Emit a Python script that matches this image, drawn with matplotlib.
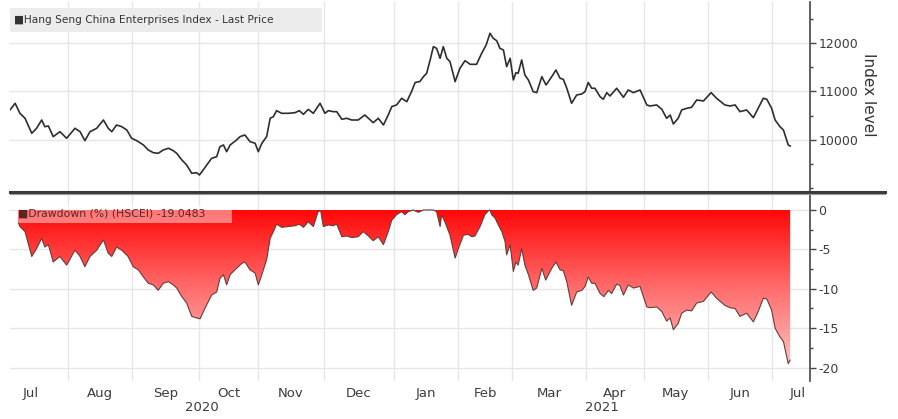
import numpy as np
import matplotlib
matplotlib.use("Agg")
import matplotlib.pyplot as plt
from matplotlib.colors import LinearSegmentedColormap
from matplotlib.lines import Line2D
from matplotlib.patches import Rectangle, Polygon
import matplotlib.ticker as mticker

# ---------------- data (x = trading-session index from start of window) ----------------
price_session = [0.0, 1.6, 3.1, 4.7, 6.8, 8.3, 9.9, 10.9, 12.0, 13.5, 15.6, 17.7, 20.3, 21.9, 23.4,
                 25.0, 27.1, 29.2, 30.7, 31.8, 33.3, 34.9, 36.5, 38.0, 39.6, 41.7, 43.2, 44.8, 46.3,
                 47.9, 49.5, 51.0, 52.1, 53.7, 55.2, 56.8, 58.3, 59.2, 60.9, 63.0, 64.6, 65.6, 66.7,
                 67.7, 68.8, 70.8, 71.9, 73.4, 75.0, 76.6, 77.6, 78.7, 80.2, 81.3, 82.3, 83.3, 84.9,
                 87.0, 89.1, 90.4, 91.7, 93.2, 94.8, 96.9, 98.4, 99.5, 101.0, 102.1, 103.7, 105.2,
                 106.8, 108.8, 110.9, 112.0, 113.5, 115.1, 116.7, 118.2, 119.3, 120.8, 122.4, 124.0,
                 125.5, 126.6, 128.1, 129.2, 130.2, 131.3, 132.3, 133.3, 134.4, 135.4, 136.5, 137.5,
                 139.1, 140.6, 142.2, 143.8, 145.8, 147.4, 148.8, 150.0, 151.0, 152.1, 153.1, 154.2,
                 155.2, 156.3, 157.3, 158.1, 158.8, 159.9, 160.9, 162.0, 163.5, 164.6, 166.2, 167.5,
                 169.3, 170.6, 171.9, 172.9, 174.0, 175.5, 177.1, 178.7, 179.7, 180.7, 181.8, 182.8,
                 184.4, 185.4, 186.5, 187.5, 189.6, 191.7, 193.2, 194.8, 196.9, 199.0, 200.0, 202.1,
                 203.7, 205.2, 206.3, 207.3, 208.8, 209.9, 211.5, 213.0, 214.6, 216.7, 219.1, 220.8,
                 223.4, 225.0, 226.6, 228.1, 230.2, 232.3, 233.8, 235.4, 236.5, 238.0, 239.1, 240.6,
                 241.7, 243.2, 243.8]
price_values = [10620, 10757, 10550, 10447, 10138, 10241, 10412, 10274, 10289, 10069, 10171, 10035,
                10241, 10171, 9986, 10171, 10241, 10412, 10241, 10171, 10309, 10275, 10206, 10035,
                9986, 9897, 9794, 9738, 9725, 9794, 9829, 9780, 9725, 9588, 9485, 9313, 9326, 9278,
                9430, 9622, 9656, 9862, 9897, 9759, 9897, 10000, 10069, 10103, 9966, 9932, 9759,
                9932, 10069, 10447, 10481, 10605, 10550, 10550, 10563, 10605, 10529, 10632, 10550,
                10757, 10550, 10605, 10584, 10584, 10427, 10447, 10412, 10412, 10515, 10447, 10357,
                10447, 10309, 10515, 10687, 10722, 10860, 10790, 11000, 11185, 11206, 11306, 11375,
                11650, 11924, 11890, 11684, 11924, 11684, 11615, 11203, 11478, 11635, 11560, 11560,
                11787, 11959, 12200, 12097, 12047, 11890, 11856, 11512, 11684, 11237, 11388, 11375,
                11650, 11340, 11237, 10996, 10976, 11306, 11134, 11306, 11443, 11272, 11251, 11066,
                10757, 10928, 10949, 10996, 11185, 11066, 11066, 10893, 10840, 10976, 10907, 11066,
                10880, 11031, 10976, 11031, 10722, 10701, 10722, 10632, 10447, 10515, 10330, 10447,
                10619, 10653, 10674, 10825, 10804, 10976, 10860, 10722, 10701, 10722, 10584, 10619,
                10460, 10653, 10860, 10839, 10653, 10412, 10275, 10206, 9897, 9876]

dd_session = [2.5, 3.1, 4.7, 6.8, 8.3, 9.9, 10.9, 12.0, 13.5, 15.6, 17.7, 20.3, 21.9, 23.4, 25.0,
              27.1, 29.2, 30.7, 31.8, 33.3, 34.9, 36.9, 38.5, 40.1, 41.7, 43.2, 44.8, 46.3, 47.9,
              49.5, 51.0, 52.1, 53.7, 55.2, 56.8, 58.3, 59.4, 60.9, 63.0, 64.6, 65.6, 66.7, 67.7,
              68.8, 70.8, 72.4, 73.4, 75.0, 76.6, 77.6, 78.7, 80.2, 81.3, 82.3, 83.3, 84.9, 87.0,
              89.1, 90.4, 91.7, 93.2, 94.8, 96.3, 97.1, 97.9, 99.5, 101.0, 102.1, 103.7, 105.2,
              106.8, 108.8, 110.4, 112.0, 113.5, 115.1, 116.7, 118.2, 119.3, 120.8, 122.4, 123.4,
              124.5, 126.0, 127.6, 129.2, 132.3, 133.3, 134.4, 134.9, 135.9, 137.5, 139.1, 140.1,
              141.7, 143.2, 144.3, 145.3, 146.9, 148.4, 149.5, 150.0, 150.5, 151.6, 152.6, 153.7,
              154.7, 155.2, 156.3, 157.3, 158.1, 158.8, 159.9, 160.9, 162.0, 163.5, 164.6, 166.2,
              167.4, 169.3, 170.6, 171.9, 172.9, 174.0, 175.5, 177.1, 178.7, 179.7, 180.7, 181.8,
              182.8, 184.4, 185.6, 187.0, 188.0, 189.6, 190.6, 191.7, 193.2, 194.8, 196.9, 199.0,
              200.0, 202.1, 203.7, 205.2, 206.3, 207.3, 208.8, 209.9, 211.5, 213.0, 214.6, 216.7,
              219.1, 220.8, 223.4, 225.0, 226.6, 228.1, 230.2, 232.3, 233.8, 235.4, 236.5, 238.0,
              239.1, 240.6, 241.7, 243.2, 243.8]
dd_values = [-1.5, -2.1, -2.75, -5.9, -4.9, -3.6, -4.7, -4.4, -6.6, -5.9, -7.0, -5.1, -5.9, -7.2,
             -5.9, -5.1, -3.8, -5.5, -5.9, -4.7, -5.1, -5.9, -7.2, -7.6, -8.5, -9.3, -9.5, -10.2,
             -9.3, -9.1, -9.5, -9.9, -11.0, -11.8, -13.5, -13.7, -13.8, -12.5, -10.8, -10.4, -8.7,
             -8.2, -9.5, -8.2, -7.4, -6.8, -6.6, -7.6, -8.0, -9.5, -8.2, -6.3, -3.6, -2.75, -1.8,
             -2.2, -2.1, -2.0, -1.8, -2.2, -1.5, -2.1, -0.2, -0.1, -2.1, -1.9, -2.0, -1.8, -3.4,
             -3.3, -3.5, -3.4, -2.75, -3.3, -3.9, -3.4, -4.4, -2.75, -1.3, -0.6, -0.2, -0.6, -0.2,
             0.0, -0.3, 0.0, 0.0, -0.2, -2.1, -0.6, -1.5, -3.2, -6.1, -4.9, -3.2, -3.1, -3.4, -3.3,
             -2.1, -0.6, -0.1, 0.0, -0.6, -1.05, -1.9, -2.75, -4.0, -5.7, -4.4, -7.8, -6.6, -7.0,
             -4.9, -7.0, -8.2, -10.2, -9.9, -7.4, -8.9, -7.4, -6.6, -7.6, -7.7, -9.1, -12.1, -10.4,
             -10.2, -9.7, -8.5, -9.3, -9.3, -10.6, -11.0, -10.2, -10.6, -9.4, -9.6, -10.8, -9.5,
             -9.9, -9.7, -12.3, -12.4, -12.3, -12.9, -14.1, -13.7, -15.2, -14.4, -13.1, -12.7,
             -12.8, -11.8, -11.6, -10.4, -11.2, -12.1, -12.4, -12.5, -13.5, -13.1, -14.2, -12.9,
             -11.2, -11.3, -12.7, -15.0, -16.1, -16.7, -19.5, -19.0483]

month_names = ["Jul", "Aug", "Sep", "Oct", "Nov", "Dec", "Jan", "Feb", "Mar", "Apr", "May", "Jun", "Jul"]
month_start_session = [-5, 18, 38, 59, 77.5, 98, 120, 140, 157, 180, 198, 218, 238, 254]
year_labels = ["2020", "2021"]
price_ticks = [10000, 11000, 12000]
dd_ticks = [0, -5, -10, -15, -20]
legend_price = "\u25A0Hang Seng China Enterprises Index - Last Price"
legend_dd = "\u25A0Drawdown (%) (HSCEI) -19.0483"
ylabel_price = "Index level"

# ---------------- layout helpers ----------------
W, H = 898, 419
fig = plt.figure(figsize=(W / 100, H / 100), dpi=100)
fig.patch.set_facecolor("white")


def rect(l, t, r, b):
    return [l / W, 1 - b / H, (r - l) / W, (b - t) / H]


TXT = "#3c3c3c"
GRID = "#e6e6e6"
SPINE = "#454545"
XLIM = (0, 250)

ax1 = fig.add_axes(rect(10, 2, 810, 191))
ax2 = fig.add_axes(rect(10, 195, 810, 381))

major_x = [m for m in month_start_session if XLIM[0] <= m <= XLIM[1]]
mid_x = [(a + b) / 2 for a, b in zip(month_start_session[:-1], month_start_session[1:])]

for ax in (ax1, ax2):
    for s in ("top", "left", "bottom"):
        ax.spines[s].set_visible(False)
    ax.spines["right"].set_color(SPINE)
    ax.spines["right"].set_linewidth(1.2)
    ax.yaxis.tick_right()
    ax.tick_params(axis="y", which="major", direction="out", length=4, width=1,
                   color=SPINE, labelsize=9, labelcolor=TXT, pad=2)
    ax.tick_params(axis="y", which="minor", direction="out", length=2.5, width=1, color=SPINE)
    ax.xaxis.set_major_locator(mticker.FixedLocator(major_x))
    ax.xaxis.set_minor_locator(mticker.FixedLocator(mid_x))
    ax.tick_params(axis="x", which="both", length=0)
    ax.xaxis.set_major_formatter(mticker.NullFormatter())
    ax.grid(True, axis="x", which="major", color=GRID, lw=1.0)
    ax.grid(True, axis="y", which="major", color=GRID, lw=1.0)
    ax.set_axisbelow(True)

# ---------------- top: price ----------------
ax1.plot(price_session, price_values, color="#2e2e2e", lw=1.2, zorder=3)
ax1.set_xlim(*XLIM)
ax1.set_ylim(8948, 12845)
ax1.yaxis.set_major_locator(mticker.FixedLocator(price_ticks))
ax1.yaxis.set_minor_locator(mticker.MultipleLocator(500))
ax1.yaxis.set_major_formatter(mticker.FuncFormatter(lambda v, p: f"{int(v)}"))
ax1.xaxis.set_minor_formatter(mticker.NullFormatter())

# ---------------- bottom: drawdown with gradient ----------------
ylo, yhi = -21.7, 1.9
verts = [(dd_session[0], 0)] + list(zip(dd_session, dd_values)) + [(dd_session[-1], 0)]
clip_poly = Polygon(verts, closed=True, facecolor="none", edgecolor="none", transform=ax2.transData)
ax2.add_patch(clip_poly)
cmap = LinearSegmentedColormap.from_list("dd", ["#ff0808", "#ff7070", "#ffc6c6"])
grad = np.linspace(0, 1, 256).reshape(-1, 1)
im = ax2.imshow(grad, aspect="auto", cmap=cmap, origin="upper",
                extent=[dd_session[0], dd_session[-1], -20.5, 0], zorder=2, interpolation="bilinear")
im.set_clip_path(clip_poly)
ax2.plot(dd_session, dd_values, color="#6a3a3a", lw=0.8, zorder=3)
ax2.set_xlim(*XLIM)
ax2.set_ylim(ylo, yhi)
ax2.yaxis.set_major_locator(mticker.FixedLocator(dd_ticks))
ax2.yaxis.set_minor_locator(mticker.MultipleLocator(2.5))
ax2.yaxis.set_major_formatter(mticker.FuncFormatter(lambda v, p: f"{int(v)}".replace("\u2212", "-")))
ax2.xaxis.set_minor_formatter(mticker.FixedFormatter(month_names))
ax2.tick_params(axis="x", which="minor", labelsize=9.5, labelcolor=TXT, pad=4)

jan = month_start_session[6]
year_pos = [(XLIM[0] + jan) / 2, (jan + XLIM[1]) / 2]
for lbl, xp in zip(year_labels, year_pos):
    ax2.text(xp, -0.145, lbl, transform=ax2.get_xaxis_transform(), ha="center", va="center",
             fontsize=9.5, color=TXT, clip_on=False)

# ---------------- legends, separator, axis title ----------------
fig.add_artist(Rectangle((10 / W, 1 - 32 / H), 312 / W, 24 / H, transform=fig.transFigure,
                         facecolor="#ececec", edgecolor="none", zorder=5))
fig.text(14 / W, 1 - 20 / H, legend_price, fontsize=7.6, color="#333333", va="center", ha="left", zorder=6)

fig.add_artist(Rectangle((17 / W, 1 - 223 / H), 215 / W, 18 / H, transform=fig.transFigure,
                         facecolor="white", alpha=0.45, edgecolor="none", zorder=5))
fig.text(18 / W, 1 - 213 / H, legend_dd, fontsize=7.8, color="#5a2525", va="center", ha="left", zorder=6)

fig.add_artist(Line2D([10 / W, 885 / W], [1 - 192 / H] * 2, transform=fig.transFigure,
                      color="#3a3a3a", lw=2.2, zorder=7))
fig.add_artist(Line2D([10 / W, 885 / W], [1 - 194.5 / H] * 2, transform=fig.transFigure,
                      color="#9a9a9a", lw=0.8, zorder=7))

fig.text(868 / W, 1 - 95 / H, ylabel_price, rotation=270, fontsize=11, color="#333333",
         ha="center", va="center")

fig.savefig("out.png", dpi=100, facecolor="white")
